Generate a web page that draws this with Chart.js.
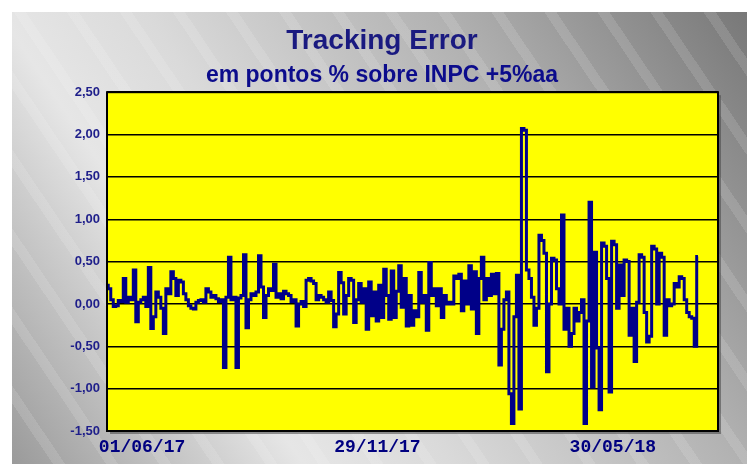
<!DOCTYPE html>
<html><head><meta charset="utf-8">
<script src="https://cdn.jsdelivr.net/npm/chart.js@4.4.1/dist/chart.umd.min.js"></script>
<style>
html,body{margin:0;padding:0;background:#fff;width:747px;height:464px;overflow:hidden;}
#bg{position:absolute;left:12px;top:12px;width:735px;height:452px;
background:
 repeating-linear-gradient(56deg, rgba(255,255,255,0) 0px, rgba(255,255,255,0) 34px, rgba(255,255,255,0.12) 34px, rgba(255,255,255,0.12) 44px),
 linear-gradient(56deg,#9a9a9a 0%,#e6e6e6 28%,#dadada 42%,#b2b2b2 70%,#787878 100%);}
#c{position:absolute;left:0;top:0;}
</style></head>
<body>
<div id="bg"></div>
<canvas id="c" width="747" height="464"></canvas>
<script>
// Tracking error series (percentage points)
const trackingError = [
 0.22,0.18,0.05,-0.03,-0.02,0.04,0.03,0.30,0.02,0.08,
 0.05,0.40,-0.21,0.02,0.05,0.08,-0.03,0.43,-0.29,-0.15,
 0.14,0.08,-0.05,-0.35,0.18,0.12,0.38,0.30,0.10,0.28,
 0.26,0.12,0.05,-0.02,-0.05,-0.06,0.02,0.04,0.05,0.02,
 0.18,0.14,0.08,0.10,0.06,0.03,0.05,-0.75,0.08,0.55,
 0.05,0.08,-0.75,0.07,0.10,0.58,-0.28,0.05,0.12,0.10,
 0.14,0.57,0.20,-0.16,0.10,0.18,0.16,0.47,0.08,0.12,
 0.06,0.15,0.12,0.10,0.03,0.05,-0.26,0.00,0.03,-0.03,
 0.28,0.30,0.27,0.24,0.05,0.10,0.08,0.05,0.02,0.14,
 0.04,-0.27,-0.12,0.37,0.25,-0.12,0.10,0.30,0.28,-0.22,
 0.05,0.24,0.02,0.18,-0.30,0.26,-0.14,0.14,-0.20,0.22,
 -0.16,0.41,0.10,-0.18,0.39,-0.16,0.15,0.45,-0.04,0.30,
 -0.26,0.10,-0.25,-0.08,-0.15,0.37,0.02,0.10,-0.31,0.49,
 0.10,0.18,-0.02,0.18,-0.16,0.10,0.00,0.02,0.00,0.33,
 0.30,0.35,-0.08,0.27,0.00,0.45,-0.06,0.38,-0.35,0.30,
 0.55,0.05,0.30,0.10,0.35,0.12,0.36,-0.72,-0.30,0.05,
 0.14,-1.06,-1.41,-0.15,0.34,-1.24,2.07,2.05,0.40,0.30,
 0.08,-0.25,-0.05,0.81,0.75,0.60,-0.80,0.00,0.54,0.52,
 0.18,0.00,1.05,-0.30,-0.05,-0.50,-0.35,-0.05,-0.20,-0.10,
 0.05,-1.41,-0.20,1.20,-0.98,0.61,-0.52,-1.25,0.72,0.68,
 0.30,-1.04,0.74,0.70,-0.05,0.46,0.10,0.52,0.50,-0.37,
 -0.05,-0.68,0.02,0.58,0.55,-0.10,-0.45,-0.38,0.68,0.65,
 0.00,0.60,0.55,-0.37,0.05,-0.02,0.00,0.24,0.20,0.32,
 0.30,0.05,-0.10,-0.15,-0.17,-0.50,0.56
];
const totalSlots = 245;
const tickLabels = ['01/06/17','29/11/17','30/05/18'];
const tickSlots = [14,108,202];
const yTicks = {min:-1.5, max:2.5, step:0.5};

const categories = [];
for (let i = 0; i < totalSlots; i++) {
  const k = tickSlots.indexOf(i);
  categories.push(k >= 0 ? tickLabels[k] : '');
}

const plotBg = {
  id:'plotBg',
  beforeDraw(c){
    const {ctx, chartArea:a} = c;
    ctx.save();
    ctx.fillStyle = 'rgba(70,70,70,0.55)';
    ctx.fillRect(a.left+3, a.top+3, a.width, a.height);
    ctx.fillStyle = '#ffff00';
    ctx.fillRect(a.left, a.top, a.width, a.height);
    ctx.restore();
  },
  afterDraw(c){
    const {ctx, chartArea:a} = c;
    ctx.save();
    ctx.strokeStyle = '#000';
    ctx.lineWidth = 2;
    ctx.strokeRect(a.left, a.top, a.width, a.height);
    ctx.restore();
  }
};

new Chart(document.getElementById('c'), {
  type:'line',
  data:{labels:categories, datasets:[{
    data:trackingError, borderColor:'#000088', borderWidth:3,
    pointRadius:0, tension:0, fill:false, stepped:'middle', borderJoinStyle:'miter'
  }]},
  options:{
    responsive:false, animation:false, devicePixelRatio:1,
    layout:{padding:{left:46,right:29,top:0,bottom:3}},
    plugins:{
      legend:{display:false}, tooltip:{enabled:false},
      title:{display:true, text:'Tracking Error', color:'#1a1a80',
        font:{family:'Liberation Sans', size:28, weight:'bold'}, padding:{top:24,bottom:3}},
      subtitle:{display:true, text:'em pontos % sobre INPC +5%aa', color:'#0c0c8c',
        font:{family:'Liberation Sans', size:23, weight:'bold'}, padding:{top:1,bottom:3}}
    },
    scales:{
      x:{grid:{display:false, drawTicks:false}, border:{display:false},
        afterFit(s){ s.height = 30; },
        ticks:{autoSkip:false, maxRotation:0, minRotation:0, padding:6, color:'#000080',
          font:{family:'Liberation Mono', size:18, weight:'bold'}}},
      y:{min:yTicks.min, max:yTicks.max,
        afterFit(s){ s.width = 61; },
        grid:{color:'#000', lineWidth:1.5, drawTicks:false}, border:{display:false},
        ticks:{stepSize:yTicks.step, padding:7, color:'#1e1e8a',
          font:{family:'Liberation Sans', size:13, weight:'bold'},
          callback:v => v.toFixed(2).replace('.', ',')}}
    }
  },
  plugins:[plotBg]
});
</script>
</body></html>
